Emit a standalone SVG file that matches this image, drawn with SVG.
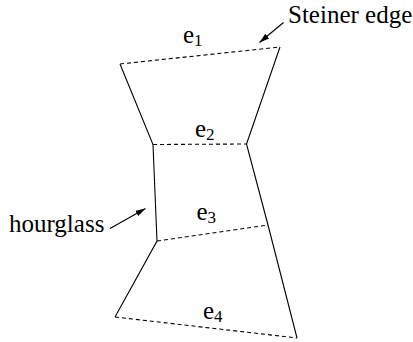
<svg xmlns="http://www.w3.org/2000/svg" width="413" height="342" viewBox="0 0 413 342">
  <style>
    .side { fill: none; stroke: #000; stroke-width: 1.1; }
    .steiner { fill: none; stroke: #000; stroke-width: 1.1; stroke-dasharray: 4 3; }
    .lbl { font-family: "Liberation Serif", "Times New Roman", serif; font-size: 25px; fill: #000; }
    .sub { font-size: 17px; }
    .arrow { fill: none; stroke: #000; stroke-width: 1.1; marker-end: url(#ah); }
  </style>
  <defs>
    <marker id="ah" viewBox="0 0 10 6" refX="10" refY="3" markerWidth="10" markerHeight="6" markerUnits="userSpaceOnUse" orient="auto">
      <path d="M0,0 L10,3 L0,6 Z" fill="#000"/>
    </marker>
  </defs>
  <rect width="413" height="342" fill="#fff"/>
  <g id="hourglass-sides">
    <polyline class="side" points="120,64 153,144.5 157,241 115,317"/>
    <polyline class="side" points="280,47 246.5,144 268,225 297,338"/>
  </g>
  <g id="e1">
    <line class="steiner" x1="120" y1="64" x2="280" y2="47"/>
    <text class="lbl" x="183" y="43">e<tspan class="sub" dy="3">1</tspan></text>
  </g>
  <g id="e2">
    <line class="steiner" x1="153" y1="144.5" x2="246.5" y2="144"/>
    <text class="lbl" x="195" y="137">e<tspan class="sub" dy="3">2</tspan></text>
  </g>
  <g id="e3">
    <line class="steiner" x1="157" y1="241" x2="268" y2="225"/>
    <text class="lbl" x="196.5" y="220">e<tspan class="sub" dy="3">3</tspan></text>
  </g>
  <g id="e4">
    <line class="steiner" x1="115" y1="317" x2="297" y2="338"/>
    <text class="lbl" x="203" y="319">e<tspan class="sub" dy="3">4</tspan></text>
  </g>
  <g id="label-steiner">
    <text class="lbl" x="288" y="22.5">Steiner edge</text>
  </g>
  <g id="label-hourglass">
    <text class="lbl" x="9" y="231.5">hourglass</text>
  </g>
  <g id="connectors">
    <line class="arrow" x1="283.5" y1="22.5" x2="259.5" y2="42.5"/>
    <line class="arrow" x1="110" y1="228.5" x2="145.5" y2="208.5"/>
  </g>
</svg>
